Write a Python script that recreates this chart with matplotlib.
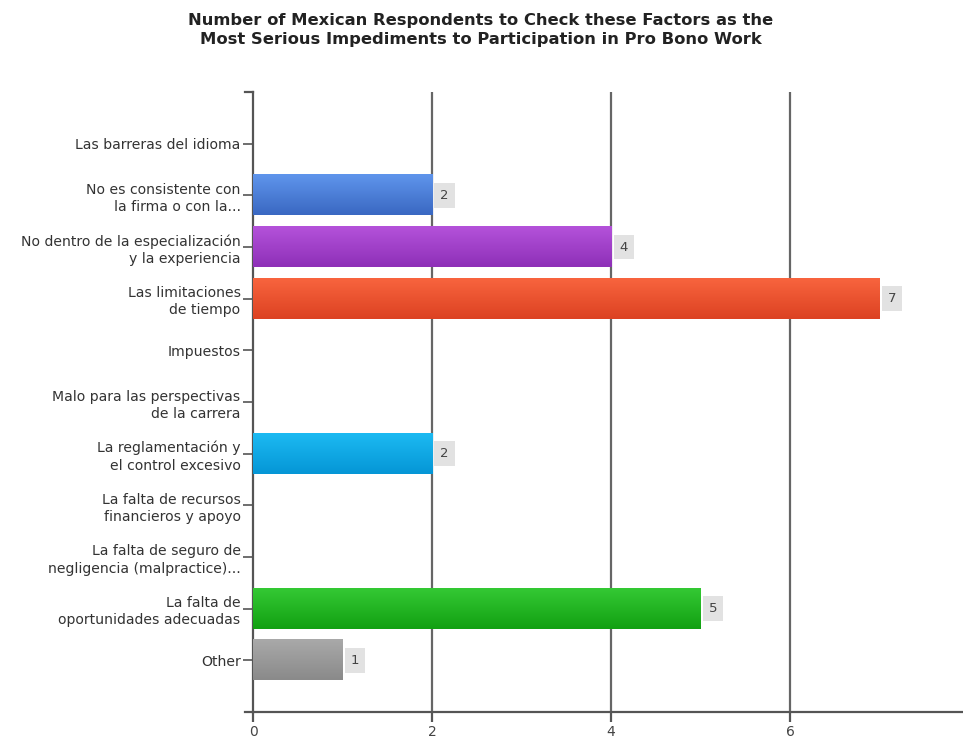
import numpy as np
import matplotlib.pyplot as plt
from matplotlib.colors import LinearSegmentedColormap

# Factors and counts, listed top to bottom
factors = [
    "Las barreras del idioma",
    "No es consistente con\nla firma o con la...",
    "No dentro de la especialización\ny la experiencia",
    "Las limitaciones\nde tiempo",
    "Impuestos",
    "Malo para las perspectivas\nde la carrera",
    "La reglamentación y\nel control excesivo",
    "La falta de recursos\nfinancieros y apoyo",
    "La falta de seguro de\nnegligencia (malpractice)...",
    "La falta de\noportunidades adecuadas",
    "Other",
]
counts = [0, 2, 4, 7, 0, 0, 2, 0, 0, 5, 1]

# light / dark shade per bar, used for a vertical gradient
light = ["#ffffff", "#5f95ec", "#b452da", "#f8643e", "#ffffff", "#ffffff",
         "#1cbaf2", "#ffffff", "#ffffff", "#34c934", "#a9a9a9"]
dark = ["#ffffff", "#3a68c2", "#8e30b8", "#dc4222", "#ffffff", "#ffffff",
        "#0596d6", "#ffffff", "#ffffff", "#12a012", "#8a8a8a"]

title = ("Number of Mexican Respondents to Check these Factors as the\n"
         "Most Serious Impediments to Participation in Pro Bono Work")

fig = plt.figure(figsize=(9.63, 7.38), dpi=100)
ax = fig.add_axes([253 / 963, 26 / 738, 710 / 963, 620 / 738])

ypos = np.arange(len(factors))
bars = ax.barh(ypos, counts, height=0.78, color=dark, zorder=3)

# gradient fill over each bar
for rect, c0, c1, v in zip(bars, light, dark, counts):
    if v == 0:
        continue
    x0, y0 = rect.get_x(), rect.get_y()
    w, h = rect.get_width(), rect.get_height()
    cmap = LinearSegmentedColormap.from_list("g", [c0, c1])
    grad = np.linspace(0, 1, 64).reshape(-1, 1)
    ax.imshow(grad, cmap=cmap, extent=(x0, x0 + w, y0 + h, y0),
              aspect="auto", zorder=4, interpolation="bilinear")
    ax.annotate(str(v), (x0 + w, y0 + h / 2), xytext=(9, 0),
                textcoords="offset points", ha="center", va="center",
                fontsize=9.5, color="#444444", zorder=5,
                bbox=dict(boxstyle="square,pad=0.45", fc="#e2e2e2", ec="none"))

ax.set_ylim(len(factors), -1)
ax.set_xlim(0, 7.93)
ax.set_yticks(ypos)
ax.set_yticklabels(factors, fontsize=10.1, color="#333333", linespacing=1.3)
ax.set_xticks([0, 2, 4, 6])
ax.set_xticklabels(["0", "2", "4", "6"], fontsize=10, color="#444444")

for xv in [2, 4, 6]:
    ax.axvline(xv, color="#666666", lw=1.6, zorder=1)

for s in ["top", "right"]:
    ax.spines[s].set_visible(False)
for s in ["left", "bottom"]:
    ax.spines[s].set_color("#555555")
    ax.spines[s].set_linewidth(1.6)
ax.tick_params(axis="y", length=7, width=1.2, color="#555555", pad=2)
ax.tick_params(axis="x", length=7, width=1.6, color="#555555", pad=2)

# short outward marks at the axis ends
ax.plot([-0.09, 0], [-1, -1], color="#555555", lw=1.6, clip_on=False)
ax.plot([-0.09, 0], [len(factors), len(factors)], color="#555555", lw=1.6,
        clip_on=False)

fig.text(0.499, 0.982, title, ha="center", va="top", fontsize=11.8,
         fontweight="bold", color="#222222", linespacing=1.35)

fig.savefig("out.png", dpi=100)
